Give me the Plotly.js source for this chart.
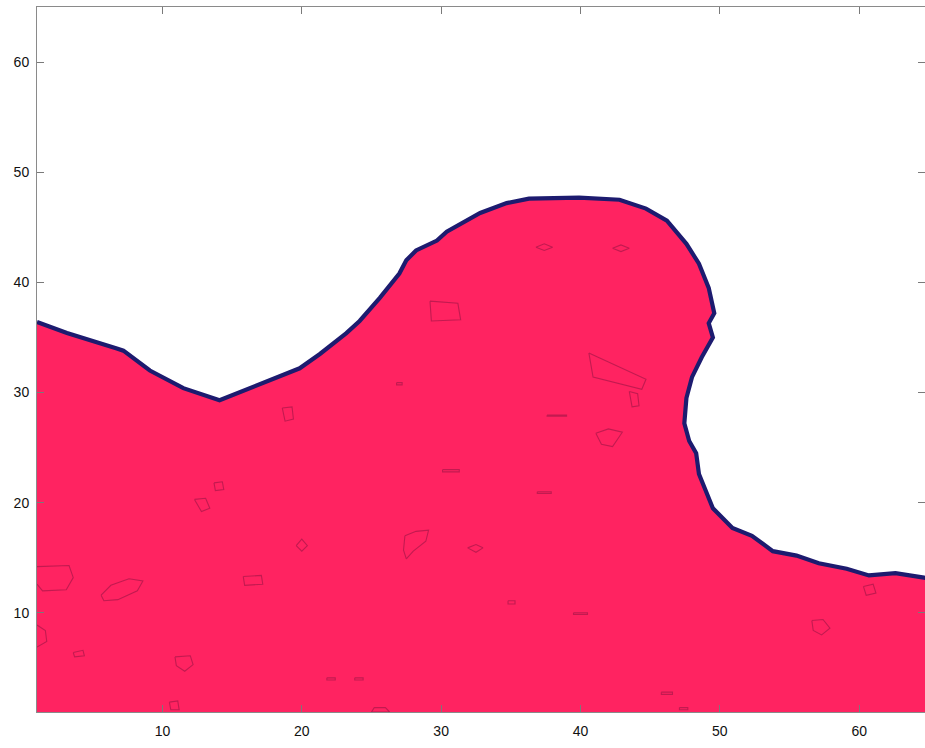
<!DOCTYPE html>
<html>
<head>
<meta charset="utf-8">
<script src="https://cdn.plot.ly/plotly-3.0.1.min.js"></script>
<style>
  html, body { margin: 0; padding: 0; background: #ffffff; }
  #chart { width: 925px; height: 748px; }
</style>
</head>
<body>
<div id="chart"></div>
<script>
// Free surface of the breaking wave (interface contour), left to right.
const surfaceX = [1, 3.15, 6.73, 7.2, 9.1, 11.5, 14.1, 16.5, 18.9, 19.85, 21.3, 23.2, 24.15, 25.6, 27.0, 27.5, 28.2,
  29.7, 30.4, 31.3, 32.8, 34.7, 36.3, 39.9, 42.8, 44.7, 46.2, 47.6, 48.5, 49.2, 49.5, 49.6, 49.2, 49.5, 48.7,
  48.0, 47.6, 47.45, 47.8, 48.3, 48.5, 49.2, 49.5, 50.9, 52.3, 53.8, 55.5, 57.1, 59.1, 60.7, 62.6, 64.65, 65];
const surfaceY = [36.4, 35.4, 34.0, 33.8, 32.0, 30.4, 29.3, 30.5, 31.7, 32.2, 33.5, 35.4, 36.5, 38.6, 40.8, 42.0, 42.9,
  43.8, 44.6, 45.2, 46.3, 47.2, 47.6, 47.7, 47.5, 46.7, 45.6, 43.5, 41.7, 39.5, 37.5, 37.2, 36.3, 35.0, 33.2,
  31.4, 29.5, 27.2, 25.6, 24.5, 22.6, 20.5, 19.5, 17.7, 17.0, 15.6, 15.2, 14.5, 14.0, 13.4, 13.6, 13.2, 13.1];

// Corners of the domain that close the liquid region below the surface.
const bottomX = [65, 1];
const bottomY = [1, 1];

// Small isolated contour loops inside the liquid (null separates loops).
const loopX = [
  29.2, 31.2, 31.4, 29.3, 29.2, null,
  40.6, 44.7, 44.4, 40.9, 40.6, null,
  43.5, 44.1, 44.2, 43.7, 43.5, null,
  41.1, 42.0, 43.0, 42.3, 41.5, 41.1, null,
  37.6, 39.0, 39.0, 37.6, 37.6, null,
  36.8, 37.4, 38.0, 37.4, 36.8, null,
  42.3, 42.9, 43.5, 42.9, 42.3, null,
  18.6, 19.3, 19.4, 18.8, 18.6, null,
  30.1, 31.3, 31.3, 30.1, 30.1, null,
  36.9, 37.9, 37.9, 36.9, 36.9, null,
  5.6, 6.3, 7.6, 8.6, 8.2, 6.8, 5.8, 5.6, null,
  1.0, 3.3, 3.6, 3.1, 1.4, 1.0, null,
  15.8, 17.1, 17.2, 15.9, 15.8, null,
  12.3, 13.1, 13.4, 12.8, 12.3, null,
  13.7, 14.3, 14.4, 13.8, 13.7, null,
  19.6, 20.0, 20.4, 20.0, 19.6, null,
  1.0, 1.6, 1.7, 1.0, null,
  3.6, 4.3, 4.4, 3.7, 3.6, null,
  10.9, 12.0, 12.2, 11.6, 11.0, 10.9, null,
  10.5, 11.1, 11.2, 10.6, 10.5, null,
  27.4, 28.2, 29.1, 28.9, 28.0, 27.5, 27.3, 27.4, null,
  31.9, 32.5, 33.0, 32.5, 31.9, null,
  34.8, 35.3, 35.3, 34.8, 34.8, null,
  39.5, 40.5, 40.5, 39.5, 39.5, null,
  21.8, 22.4, 22.4, 21.8, 21.8, null,
  23.8, 24.4, 24.4, 23.8, 23.8, null,
  45.8, 46.6, 46.6, 45.8, 45.8, null,
  47.1, 47.7, 47.7, 47.1, 47.1, null,
  56.6, 57.4, 57.9, 57.3, 56.7, 56.6, null,
  60.3, 61.0, 61.2, 60.5, 60.3, null,
  26.8, 27.2, 27.2, 26.8, 26.8, null,
  25.2, 26.0, 26.3, 25.0, 25.2
];
const loopY = [
  38.3, 38.1, 36.6, 36.5, 38.3, null,
  33.6, 31.2, 30.3, 31.4, 33.6, null,
  30.1, 29.9, 28.8, 28.7, 30.1, null,
  26.3, 26.7, 26.4, 25.1, 25.3, 26.3, null,
  27.95, 27.95, 27.85, 27.85, 27.95, null,
  43.2, 43.5, 43.2, 42.9, 43.2, null,
  43.1, 43.4, 43.1, 42.8, 43.1, null,
  28.6, 28.7, 27.6, 27.4, 28.6, null,
  23.0, 23.0, 22.8, 22.8, 23.0, null,
  21.0, 21.0, 20.85, 20.85, 21.0, null,
  11.6, 12.5, 13.1, 12.9, 12.0, 11.2, 11.1, 11.6, null,
  14.2, 14.3, 13.2, 12.1, 12.0, 12.6, null,
  13.3, 13.4, 12.6, 12.5, 13.3, null,
  20.3, 20.4, 19.5, 19.2, 20.3, null,
  21.8, 21.9, 21.2, 21.1, 21.8, null,
  16.1, 16.7, 16.1, 15.6, 16.1, null,
  8.9, 8.4, 7.4, 6.9, null,
  6.4, 6.6, 6.1, 6.0, 6.4, null,
  6.0, 6.1, 5.3, 4.7, 5.2, 6.0, null,
  1.9, 2.0, 1.2, 1.2, 1.9, null,
  17.0, 17.4, 17.5, 16.5, 15.6, 14.9, 15.7, 17.0, null,
  15.9, 16.2, 15.9, 15.5, 15.9, null,
  11.1, 11.1, 10.8, 10.8, 11.1, null,
  10.0, 10.0, 9.85, 9.85, 10.0, null,
  4.1, 4.1, 3.9, 3.9, 4.1, null,
  4.1, 4.1, 3.9, 3.9, 4.1, null,
  2.8, 2.8, 2.6, 2.6, 2.8, null,
  1.4, 1.4, 1.2, 1.2, 1.4, null,
  9.3, 9.4, 8.6, 8.0, 8.4, 9.3, null,
  12.4, 12.6, 11.8, 11.6, 12.4, null,
  30.9, 30.9, 30.7, 30.7, 30.9, null,
  1.4, 1.4, 1.0, 1.0, 1.4
];

const tickVals = [10, 20, 30, 40, 50, 60];

// Liquid region: surface plus the two bottom corners, filled.
const liquid = {
  type: 'scatter', mode: 'lines',
  x: surfaceX.concat(bottomX),
  y: surfaceY.concat(bottomY),
  fill: 'toself', fillcolor: '#ff2361',
  line: { width: 0, color: '#ff2361' },
  hoverinfo: 'skip'
};

const loops = {
  type: 'scatter', mode: 'lines',
  x: loopX, y: loopY,
  connectgaps: false,
  line: { width: 1.1, color: 'rgba(120,15,60,0.45)' },
  hoverinfo: 'skip'
};

const surface = {
  type: 'scatter', mode: 'lines',
  x: surfaceX, y: surfaceY,
  line: { width: 4.2, color: '#1d1b6f' },
  hoverinfo: 'skip'
};

const axisCommon = {
  tickvals: tickVals,
  ticktext: tickVals.map(String),
  ticks: 'inside', ticklen: 7, tickwidth: 1, tickcolor: '#7a7a7a',
  showline: true, linecolor: '#8a8a8a', linewidth: 1, mirror: 'ticks',
  showgrid: false, zeroline: false,
  tickfont: { family: 'Liberation Sans, Arial, sans-serif', size: 14, color: '#111111' }
};

const layout = {
  width: 925, height: 748,
  margin: { l: 37, r: 0, t: 7, b: 36 },
  paper_bgcolor: '#ffffff', plot_bgcolor: '#ffffff',
  showlegend: false,
  xaxis: Object.assign({}, axisCommon, { range: [1, 64.72], ticklabelstandoff: 6 }),
  yaxis: Object.assign({}, axisCommon, { range: [1, 65], ticklabelstandoff: 4 })
};

Plotly.newPlot('chart', [liquid, loops, surface], layout, { displayModeBar: false, staticPlot: true });
</script>
</body>
</html>
